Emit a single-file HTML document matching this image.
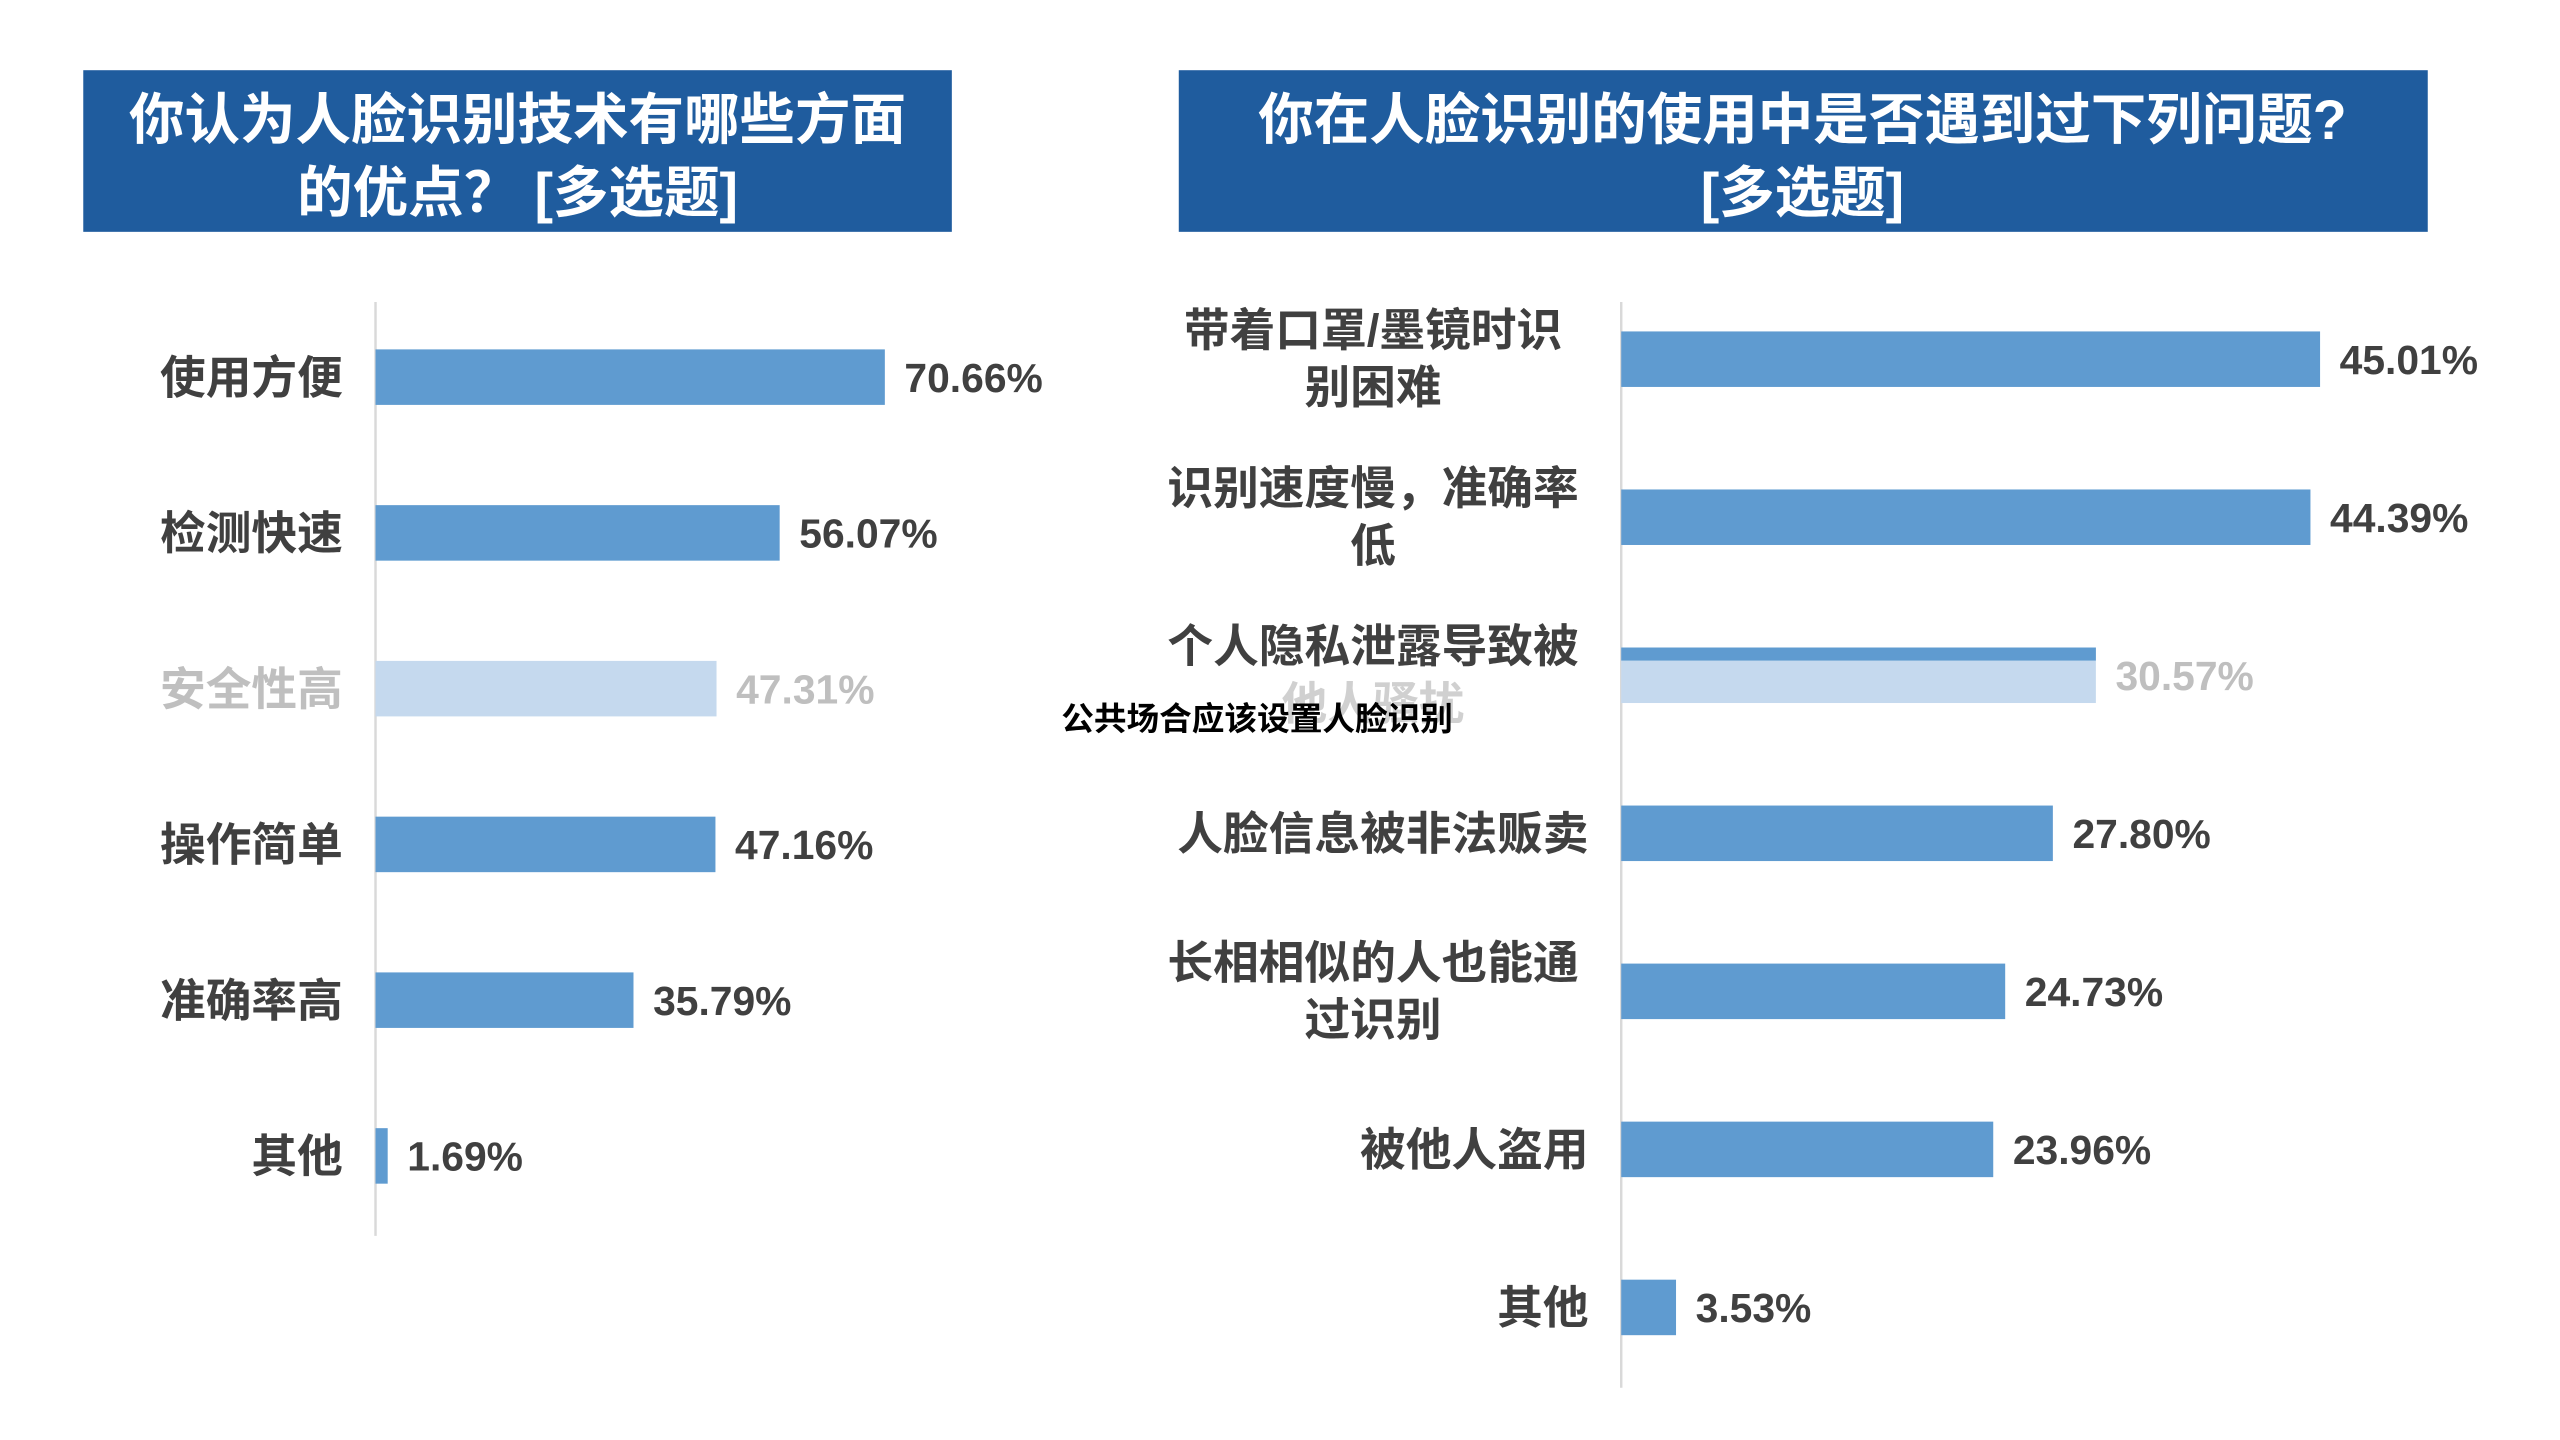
<!DOCTYPE html>
<html><head><meta charset="utf-8"><style>
html,body{margin:0;padding:0;background:#fff;}
svg{display:block;}
text{font-family:"Liberation Sans","Noto Sans CJK SC",sans-serif;font-weight:bold;}
</style></head><body>
<svg id="c" width="2560" height="1440" viewBox="0 0 1568 882" preserveAspectRatio="none" xmlns="http://www.w3.org/2000/svg">
<rect x="51" y="43" width="532" height="99" fill="#1f5c9e"/>
<text fill="#fff" font-size="34" text-anchor="middle"><tspan x="317" y="85">你认为人脸识别技术有哪些方面</tspan><tspan x="317" y="130">的优点？ [多选题]</tspan></text>
<rect x="722" y="43" width="765" height="99" fill="#1f5c9e"/>
<text fill="#fff" font-size="34" text-anchor="middle"><tspan x="1104" y="85">你在人脸识别的使用中是否遇到过下列问题?</tspan><tspan x="1104" y="130">[多选题]</tspan></text>
<line x1="230" y1="185" x2="230" y2="757" stroke="#d9d9d9" stroke-width="1.5"/>
<line x1="993" y1="185" x2="993" y2="850" stroke="#d9d9d9" stroke-width="1.5"/>
<g id="left"></g><g id="right"></g>
<text x="650" y="447" font-size="20" fill="#000">公共场合应该设置人脸识别</text>
</svg>
<script>
const leftCats=["使用方便","检测快速","安全性高","操作简单","准确率高","其他"];
const leftVals=[70.66,56.07,47.31,47.16,35.79,1.69];
const leftLabels=["70.66%","56.07%","47.31%","47.16%","35.79%","1.69%"];
const rightCats=[["带着口罩/墨镜时识","别困难"],["识别速度慢，准确率","低"],["个人隐私泄露导致被","他人骚扰"],["人脸信息被非法贩卖"],["长相相似的人也能通","过识别"],["被他人盗用"],["其他"]];
const rightVals=[45.01,44.39,30.57,27.80,24.73,23.96,3.53];
const rightLabels=["45.01%","44.39%","30.57%","27.80%","24.73%","23.96%","3.53%"];
const NS="http://www.w3.org/2000/svg";
function mk(tag,attrs,parent){const e=document.createElementNS(NS,tag);for(const k in attrs)e.setAttribute(k,attrs[k]);parent.appendChild(e);return e;}
function draw(g,cats,vals,labels,x0,pxPer,y0,step,labelX,hi,side){
  cats.forEach((c,i)=>{
    const cy=y0+i*step, w=vals[i]*pxPer, light=i===hi;
    const r=mk("rect",{x:x0,y:cy-17,width:w,height:34,fill:light?"#c5d9ee":"#5f9bd0"},g);
    
    
    if(light&&side==="right"){const s=mk("rect",{x:x0,y:cy-17,width:w,height:8,fill:"#5f9bd0"},g);
      
      }
    const v=mk("text",{x:x0+w+12,y:cy+9,"font-size":25,fill:light?"#bfbfbf":"#404040"},g);
    v.textContent=labels[i];
    
    
    const lines=Array.isArray(c)?c:[c];
    const t=mk("text",{"font-size":28,fill:light&&side==="left"?"#bfbfbf":"#404040","text-anchor":lines.length>1?"middle":"end"},g);
    
    
    lines.forEach((l,j)=>{const ts=mk("tspan",{x:lines.length>1?labelX-132:labelX,y:lines.length>1?cy-8+j*35:cy+10},t);
      if(light&&j===1)ts.setAttribute("fill","#d0d0d0");ts.textContent=l;});
  });
}
draw(document.getElementById("left"),leftCats,leftVals,leftLabels,230,4.415,231,95.4,210,2,"left");
draw(document.getElementById("right"),rightCats,rightVals,rightLabels,993,9.51,220,96.8,973,2,"right");
</script>
</body></html>
